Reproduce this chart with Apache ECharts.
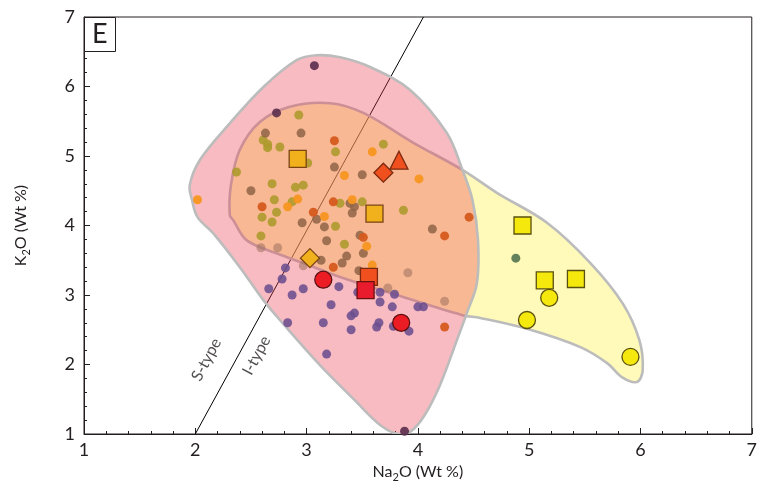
<!DOCTYPE html>
<html>
<head>
<meta charset="utf-8">
<script src="https://cdn.jsdelivr.net/npm/echarts@6/dist/echarts.min.js"></script>
<style>html,body{margin:0;padding:0;background:#fff;}#c{width:760px;height:489px;}</style>
</head>
<body>
<div id="c"></div>
<script>
// ---- data (Na2O, K2O in Wt %) ----
const xTicks = [1, 2, 3, 4, 5, 6, 7];
const yTicks = [1, 2, 3, 4, 5, 6, 7];
const siLine = [[2.0, 1.0], [4.05, 7.0]];
const typeLabels = [
  {name: 'S-type', value: [2.10, 2.07]},
  {name: 'I-type', value: [2.55, 2.13]}
];
const pinkOutline = [
  [3.09,6.45],[3.30,6.42],[3.57,6.28],[3.93,5.95],[4.26,5.33],[4.40,4.80],[4.49,4.37],
  [4.54,3.79],[4.53,3.17],[4.44,2.74],[4.35,2.35],[4.20,1.71],[4.06,1.27],[3.93,1.03],
  [3.82,1.00],[3.66,1.13],[3.43,1.49],[3.12,1.99],[2.76,2.64],[2.61,2.93],[2.40,3.40],
  [2.16,3.89],[2.02,4.12],[1.97,4.37],[1.95,4.58],[2.04,4.94],[2.31,5.47],[2.61,5.99],[2.91,6.38]
];
const yellowOutline = [
  [2.31,4.15],[2.32,4.58],[2.40,5.09],[2.58,5.49],[2.85,5.71],[3.21,5.76],[3.51,5.62],
  [3.96,5.19],[4.40,4.80],[4.71,4.47],[5.16,4.04],[5.55,3.46],[5.84,2.88],[5.99,2.35],
  [6.02,1.92],[5.97,1.75],[5.84,1.81],[5.70,2.02],[5.46,2.25],[5.01,2.50],[4.56,2.67],
  [4.40,2.71],[3.81,3.00],[3.30,3.26],[2.97,3.46],[2.73,3.60],[2.46,3.79],[2.34,4.08]
];
const oliveDots = [
  [2.93,5.59],[2.61,5.23],[2.65,5.17],[2.65,5.12],[2.76,5.13],[3.26,5.06],[3.69,5.17],
  [2.88,4.97],[3.01,4.90],[2.37,4.77],[2.69,4.60],[2.90,4.55],[2.97,4.58],[2.71,4.37],
  [2.87,4.34],[2.73,4.19],[2.60,4.12],[2.69,4.05],[3.30,4.32],[3.50,4.34],[3.87,4.22],
  [3.26,3.99],[2.59,3.85],[3.34,3.73]
];
const brownDots = [
  [2.63,5.33],[2.95,5.33],[3.25,4.84],[3.50,4.73],[2.50,4.50],[3.41,4.18],[3.43,4.27],
  [3.09,4.09],[2.96,4.04],[3.16,3.98],[3.18,3.78],[3.48,3.86],[4.13,3.95],[3.51,3.60],
  [3.36,3.56],[3.32,3.46],[3.47,3.35],[3.13,3.50],[3.39,4.32]
];
const paleBrownDots = [
  [2.59,3.68],[2.74,3.68],[3.91,3.32],[4.24,2.91],[3.73,3.10],[2.97,3.42]
];
const orangeRedDots = [
  [3.25,5.22],[3.24,4.34],[2.60,4.27],[3.06,4.19],[3.51,3.83],[4.46,4.12],[4.24,3.85],
  [3.24,3.40],[4.24,2.54]
];
const orangeDots = [
  [2.02,4.37],[2.92,4.38],[2.83,4.27],[3.34,4.72],[3.59,5.06],[4.01,4.67],[3.41,4.37],
  [3.16,4.13],[3.54,3.70],[3.59,3.43]
];
const purpleDots = [
  [2.66,3.09],[2.78,3.23],[2.81,3.39],[2.87,3.00],[2.97,3.09],[3.22,2.86],[3.29,3.12],
  [3.40,2.70],[3.43,2.74],[3.40,2.50],[3.63,2.54],[3.65,2.60],[3.66,2.90],[3.66,3.04],
  [3.79,3.01],[3.77,2.83],[4.00,2.83],[4.05,2.83],[3.92,2.48],[3.78,2.55],[3.46,3.04],
  [2.83,2.60],[3.15,2.60],[3.18,2.15]
];
const maroonDots = [[2.73,5.62],[3.07,6.30],[3.88,1.04]];
const greenDots = [[4.88,3.53]];
const amberSquares = [[2.92,4.96],[3.61,4.17]];
const vermilionSquares = [[3.56,3.26]];
const redSquares = [[3.53,3.07]];
const yellowSquares = [[4.94,4.00],[5.14,3.21],[5.42,3.23]];
const yellowCircles = [[5.18,2.96],[4.98,2.64],[5.91,2.11]];
const redCircles = [[3.15,3.22],[3.85,2.60]];
const vermilionTriangles = [[3.83,4.94]];
const vermilionDiamonds = [[3.69,4.76]];
const amberDiamonds = [[3.03,3.53]];

// ---- chart ----
const FONT = 'Lato';
const chart = echarts.init(document.getElementById('c'), null, {renderer: 'canvas'});

function regionSeries(outline, fill, z) {
  return {
    type: 'custom', z: z, silent: true, clip: true,
    data: outline,
    renderItem: function (params, api) {
      if (params.dataIndex !== 0) return null;
      const pts = outline.map(p => api.coord(p));
      return {
        type: 'polygon',
        shape: {points: pts, smooth: 0.35},
        style: {fill: fill, stroke: '#bcbcbc', lineWidth: 2.6}
      };
    }
  };
}
function dots(data, color, opacity) {
  return {type: 'scatter', data: data, symbol: 'circle', symbolSize: 9, z: 5,
    itemStyle: {color: color, opacity: opacity}, silent: true};
}
function big(data, symbol, size, color, border) {
  return {type: 'scatter', data: data, symbol: symbol, symbolSize: size, z: 6, silent: true,
    itemStyle: {color: color, borderColor: border, borderWidth: 1.3, opacity: 1}};
}

const nameStyle = {color: '#231f20', fontSize: 16, fontFamily: FONT,
  rich: {
    main: {fontSize: 16, fontFamily: FONT, color: '#231f20'},
    sub: {fontSize: 11, fontFamily: FONT, color: '#231f20', padding: [11, 0, 0, 0]}
  }};

const axisCommon = {
  min: 1, max: 7, interval: 1,
  axisLine: {show: true, onZero: false, lineStyle: {color: '#231f20', width: 1}},
  axisTick: {show: true, inside: true, length: 6, lineStyle: {color: '#231f20'}},
  minorTick: {show: true, splitNumber: 5, length: 3, lineStyle: {color: '#231f20'}},
  splitLine: {show: false},
  nameTextStyle: nameStyle
};

chart.setOption({
  animation: false,
  backgroundColor: '#fff',
  title: {text: 'E', left: 84, top: 17, padding: [4, 8, 4, 8],
    borderColor: '#231f20', borderWidth: 1, backgroundColor: '#fff',
    textStyle: {fontSize: 27, fontWeight: 'normal', fontFamily: FONT, color: '#231f20'}},
  grid: {left: 84, right: 8, top: 17, bottom: 55, show: true, borderColor: '#231f20', borderWidth: 1},
  xAxis: Object.assign({}, axisCommon, {
    type: 'value', name: '{main|Na}{sub|2}{main|O (Wt %)}', nameLocation: 'middle', nameGap: 27,
    axisLabel: {color: '#231f20', fontSize: 18, fontFamily: FONT, margin: 7,
      formatter: v => xTicks.includes(v) ? String(v) : ''}
  }),
  yAxis: Object.assign({}, axisCommon, {
    type: 'value', name: '{main|K}{sub|2}{main|O (Wt %)}', nameLocation: 'middle', nameGap: 52,
    axisLabel: {color: '#231f20', fontSize: 18, fontFamily: FONT, margin: 9,
      formatter: v => yTicks.includes(v) ? String(v) : ''}
  }),
  series: [
    {type: 'line', data: siLine, symbol: 'none', z: 1, silent: true,
      lineStyle: {color: '#000', width: 1}},
    {type: 'scatter', data: typeLabels, symbolSize: 0, z: 2, silent: true,
      label: {show: true, formatter: p => p.name, rotate: 62, position: 'inside',
        color: '#231f20', fontSize: 16, fontFamily: FONT}},
    regionSeries(yellowOutline, 'rgba(255,244,100,0.45)', 3),
    regionSeries(pinkOutline, 'rgba(238,57,77,0.343)', 4),
    dots(purpleDots, '#6b4e8e', 0.88),
    dots(oliveDots, '#ad9a2c', 0.9),
    dots(brownDots, '#8f6446', 0.85),
    dots(paleBrownDots, '#9c6f5c', 0.55),
    dots(orangeRedDots, '#d65a1c', 0.95),
    dots(orangeDots, '#f79520', 0.95),
    dots(maroonDots, '#5a2d4c', 0.9),
    dots(greenDots, '#5d7a55', 0.95),
    big(amberSquares, 'rect', 17, '#f0b11c', '#7a4414'),
    big(vermilionSquares, 'rect', 17, '#f04f1e', '#7a2a10'),
    big(redSquares, 'rect', 17, '#e81c2c', '#6a1010'),
    big(yellowSquares, 'rect', 17, '#f5e80c', '#5a5010'),
    big(yellowCircles, 'circle', 17, '#f5e80c', '#5a5010'),
    big(redCircles, 'circle', 17, '#ec1c24', '#5a1010'),
    big(vermilionTriangles, 'triangle', 18, '#f04f1e', '#7a2a10'),
    big(vermilionDiamonds, 'diamond', 19, '#f04f1e', '#7a2a10'),
    big(amberDiamonds, 'diamond', 19, '#f0b11c', '#7a4414')
  ]
});
</script>
</body>
</html>
